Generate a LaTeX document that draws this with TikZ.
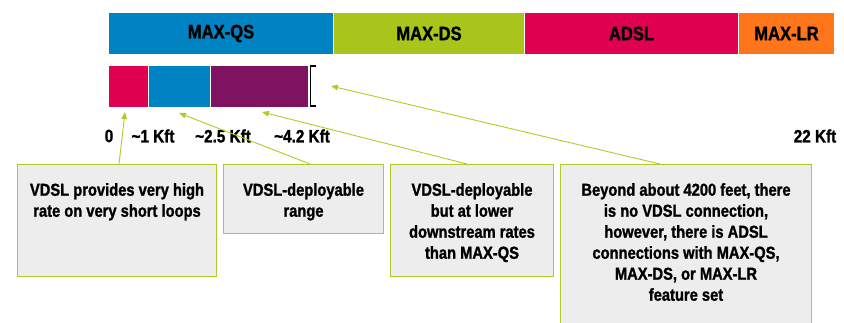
\documentclass[tikz,border=0pt]{standalone}
\usepackage{fontspec}
\setmainfont{Liberation Sans}[FakeStretch=0.85,BoldFeatures={FakeBold=1.3}]
\usetikzlibrary{arrows.meta}
\definecolor{qsblue}{RGB}{0,130,195}
\definecolor{dsgreen}{RGB}{169,196,27}
\definecolor{adslred}{RGB}{224,0,80}
\definecolor{lrorange}{RGB}{255,117,26}
\definecolor{vdslpurple}{RGB}{127,19,97}
\definecolor{boxgrey}{RGB}{237,237,237}
\definecolor{callgreen}{RGB}{178,202,40}
\begin{document}
\begin{tikzpicture}[x=1pt,y=-1pt,
  seg/.style={anchor=north west,draw=white,line width=1pt,inner sep=0pt,
    font=\bfseries\fontsize{19.5}{22}\selectfont},
  kft/.style={inner sep=0pt,font=\bfseries\fontsize{18}{21}\selectfont},
  callbox/.style={anchor=north west,draw=callgreen,fill=boxgrey,line width=1pt},
  lbl/.style={anchor=north,yshift=-19pt,inner sep=0pt,align=center,
    font=\bfseries\fontsize{17.3}{21}\selectfont},
  call/.style={draw=callgreen,line width=0.9pt,-{Triangle[length=7pt,width=5.5pt]}}]
  \clip (0,0) rectangle (844,322);
  \node[seg,fill=qsblue,minimum width=225pt,minimum height=42pt] (qs) at (108,12) {MAX-QS};
  \node[seg,fill=dsgreen,minimum width=191pt,minimum height=42pt] (ds) at (333,12) {MAX-DS};
  \node[seg,fill=adslred,minimum width=214pt,minimum height=42pt] (adsl) at (524,12) {ADSL};
  \node[seg,fill=lrorange,minimum width=96pt,minimum height=42pt] (lr) at (738,12) {MAX-LR};
  \node[seg,fill=adslred,minimum width=39.5pt,minimum height=42pt] (v1) at (108,65) {};
  \node[seg,fill=qsblue,minimum width=62pt,minimum height=42pt] (v2) at (147.5,65) {};
  \node[seg,fill=vdslpurple,minimum width=98.5pt,minimum height=42pt] (v3) at (209.5,65) {};
  \draw[line width=1.6pt] (316,66) -- (310.5,66) -- (310.5,106) -- (316,106);
  \node[kft] (k0) at (109,136) {0};
  \node[kft] (k1) at (153,136) {\textasciitilde1 Kft};
  \node[kft] (k2) at (223,136) {\textasciitilde2.5 Kft};
  \node[kft] (k3) at (302,136) {\textasciitilde4.2 Kft};
  \node[kft] (k4) at (815,136) {22 Kft};
  \node[callbox,minimum width=199pt,minimum height=112pt,
    label={[lbl]north:{VDSL provides very high\\rate on very short loops}}] (b1) at (17,164) {};
  \node[callbox,minimum width=160pt,minimum height=69pt,
    label={[lbl]north:{VDSL-deployable\\range}}] (b2) at (223,164) {};
  \node[callbox,minimum width=163pt,minimum height=112pt,
    label={[lbl]north:{VDSL-deployable\\but at lower\\downstream rates\\than MAX-QS}}] (b3) at (390,164) {};
  \node[callbox,minimum width=251pt,minimum height=170pt,
    label={[lbl]north:{Beyond about 4200 feet, there\\is no VDSL connection,\\however, there is ADSL\\connections with MAX-QS,\\MAX-DS, or MAX-LR\\feature set}}] (b4) at (560,164) {};
  \coordinate (p1) at (125,112);
  \coordinate (p2) at (179,113);
  \coordinate (p3) at (262,112);
  \coordinate (p4) at (331,86);
  \draw[call] ([xshift=102pt]b1.north west) -- (p1);
  \draw[call] ([xshift=87pt]b2.north west) -- (p2);
  \draw[call] ([xshift=77pt]b3.north west) -- (p3);
  \draw[call] ([xshift=100pt]b4.north west) -- (p4);
\end{tikzpicture}
\end{document}
